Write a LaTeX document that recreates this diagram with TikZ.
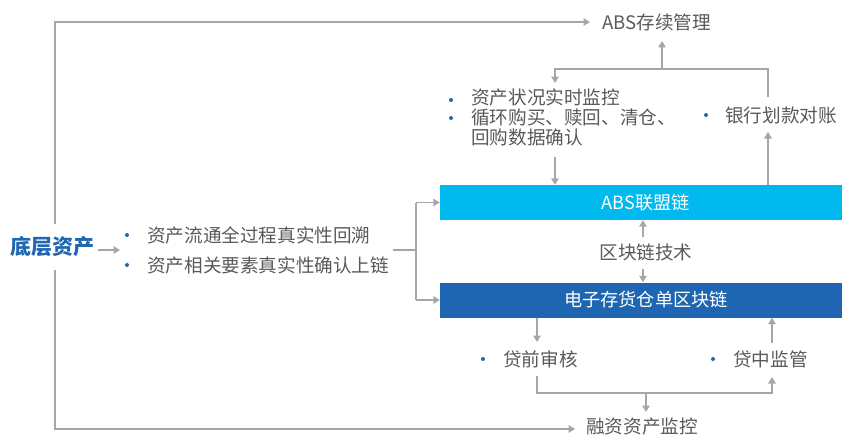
\documentclass[tikz,border=0pt]{standalone}
\usepackage{fontspec}
\setmainfont{Noto Sans CJK SC}
\usetikzlibrary{arrows.meta}
\definecolor{ln}{HTML}{A6A6A6}
\definecolor{tx}{HTML}{595959}
\definecolor{bl}{HTML}{1F67B1}
\definecolor{cy}{HTML}{00B9EF}
\definecolor{db}{HTML}{1E66B2}
\tikzset{
  txt/.style={inner sep=0pt, text=tx, font=\fontsize{18.6}{20}\selectfont},
  band/.style={inner sep=0pt, minimum width=402pt, minimum height=35pt, text=white, font=\fontsize{18.2}{20}\selectfont},
  lnk/.style={draw=ln, line width=1.5pt},
  arr/.style={lnk, -{Triangle[width=7.5pt,length=6.5pt]}},
  dot/.style={circle, fill=bl, inner sep=0pt, minimum size=4pt}
}
\begin{document}
\begin{tikzpicture}[x=1pt,y=-1pt]
\useasboundingbox (0,0) rectangle (842,436);

% main text nodes
\node[txt, anchor=west] (abs) at (602,22) {ABS存续管理};
\node[txt, anchor=west, yshift=2pt] (rz) at (586,428) {融资资产监控};
\node[inner sep=0pt, anchor=west, text=bl, font=\fontsize{21}{22}\selectfont\bfseries] (dc) at (10,247) {底层资产};

% left list
\node[dot] (d1) at (127,235) {};
\node[dot] (d2) at (127,265) {};
\node[txt, anchor=west] (l1) at (147,235) {资产流通全过程真实性回溯};
\node[txt, anchor=west] (l2) at (147,265) {资产相关要素真实性确认上链};

% bands
\node[band, fill=cy] (absc) at (641,202.5) {\hspace{10pt}ABS联盟链};
\node[band, fill=db] (ewr) at (641,300) {\hspace{10pt}电子存货仓单区块链};
\node[txt] (tech) at (646,252) {区块链技术};

% top list
\node[dot] (d3) at (451,100) {};
\node[dot] (d4) at (451,118) {};
\node[txt, anchor=north west, align=left, font=\fontsize{18.6}{20}\selectfont] (mon) at (471,89) {资产状况实时监控\\循环购买、赎回、清仓、\\回购数据确认};
\node[dot] (d5) at (706,115) {};
\node[txt, anchor=west] (bank) at (725,115) {银行划款对账};

% bottom items
\node[dot] (d6) at (483,359) {};
\node[txt, anchor=west] (pre) at (503,359) {贷前审核};
\node[dot] (d7) at (713,359) {};
\node[txt, anchor=west] (mid) at (733,359) {贷中监管};

% coordinates
\coordinate (fA) at (55,224);
\coordinate (fB) at (55,270);
\coordinate (fTL) at (55,22);
\coordinate (fBL) at (55,429);
\coordinate (fTR) at (590,22);
\coordinate (fBR) at (575,429);
\coordinate (dcE) at (98,250);
\coordinate (lsW) at (120,250);
\coordinate (br) at (393,250);
\coordinate (brX) at (416,250);
\coordinate (monB) at (555,157);
\coordinate (topY) at (555,69);
\coordinate (monT) at (555,83);
\coordinate (bankT) at (768,97);
\coordinate (bankB) at (768,132);
\coordinate (absB) at (662,41);
\coordinate (techT) at (643,237);
\coordinate (techB) at (643,269);
\coordinate (preT) at (537,342);
\coordinate (preB) at (537,376);
\coordinate (midB) at (772,377);
\coordinate (midT) at (772,343);
\coordinate (botY) at (646,393);
\coordinate (rzT) at (646,412);

% frame
\draw[arr] (fA) -- (fTL) -- (fTR);
\draw[arr] (fB) -- (fBL) -- (fBR);
\draw[arr] (dcE) -- (lsW);

% bracket
\draw[lnk] (br) -- (brX);
\draw[arr] (brX |- absc.west) -- (absc.west) ;
\draw[arr] (brX |- ewr.west) -- (ewr.west);
\draw[lnk] (brX |- absc.west) -- (brX |- ewr.west);

% top
\draw[arr] (monB) -- (monB |- absc.north);
\draw[arr] (bankB |- absc.north) -- (bankB);
\draw[arr] (bankT) -- (bankT |- topY) -- (topY) -- (monT);
\draw[arr] (absB |- topY) -- (absB);

% tech
\draw[arr] (techT) -- (techT |- absc.south);
\draw[arr] (techB) -- (techB |- ewr.north);

% bottom
\draw[arr] (preT |- ewr.south) -- (preT);
\draw[arr] (midT) -- (midT |- ewr.south);
\draw[arr] (preB) -- (preB |- botY) -- (midB |- botY) -- (midB);
\draw[arr] (botY) -- (rzT);
\end{tikzpicture}
\end{document}
